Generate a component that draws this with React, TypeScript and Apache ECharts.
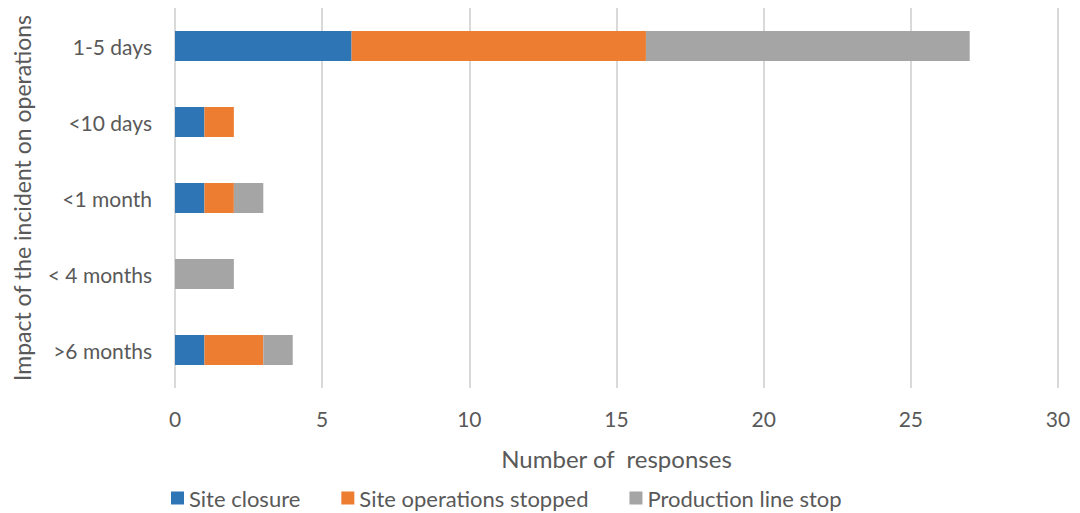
import React, { useEffect, useRef } from "react";
import * as echarts from "echarts";

const categories = ["1-5 days", "<10 days", "<1 month", "< 4 months", ">6 months"];
const siteClosure = [6, 1, 1, 0, 1];
const siteOpsStopped = [10, 1, 1, 0, 2];
const productionLineStop = [11, 0, 1, 2, 1];
const seriesNames = ["Site closure", "Site operations stopped", "Production line stop"];
const colors = ["#2E75B6", "#ED7D31", "#A5A5A5"];

const FONT = "Lato, 'Open Sans', sans-serif";

export default function App() {
  const ref = useRef<HTMLDivElement>(null);
  useEffect(() => {
    if (!ref.current) return;
    const chart = echarts.init(ref.current, undefined, { renderer: "svg" });
    const data = [siteClosure, siteOpsStopped, productionLineStop];
    chart.setOption({
      animation: false,
      textStyle: { fontFamily: FONT },
      grid: { left: 175, right: 22, top: 8, bottom: 125, containLabel: false, outerBoundsMode: "none" },
      legend: {
        top: 482,
        left: 166,
        itemWidth: 13,
        itemHeight: 13,
        itemGap: 41,
        icon: "rect",
        textStyle: { fontSize: 22, color: "#595959", fontFamily: FONT },
        data: seriesNames,
      },
      xAxis: {
        type: "value",
        min: 0,
        max: 30,
        interval: 5,
        name: "Number of  responses",
        nameLocation: "middle",
        nameGap: 58,
        nameTextStyle: { fontSize: 24, color: "#595959", fontFamily: FONT },
        axisLine: { show: false },
        axisTick: { show: false },
        axisLabel: { fontSize: 21, color: "#595959", margin: 20, fontFamily: FONT },
        splitLine: { show: true, lineStyle: { color: "#D9D9D9", width: 2 } },
      },
      yAxis: {
        type: "category",
        inverse: true,
        data: categories,
        name: "Impact of the incident on operations",
        nameLocation: "middle",
        nameGap: 142,
        nameRotate: 90,
        nameTextStyle: { fontSize: 23, color: "#595959", fontFamily: FONT },
        axisLine: { show: false },
        axisTick: { show: false },
        axisLabel: { fontSize: 21, color: "#595959", margin: 23, fontFamily: FONT },
      },
      series: seriesNames.map((name, i) => ({
        name,
        type: "bar",
        stack: "total",
        barWidth: 30,
        itemStyle: { color: colors[i] },
        data: data[i],
      })),
    });
    return () => chart.dispose();
  }, []);
  return (
    <div
      ref={ref}
      style={{ position: "absolute", left: 0, top: 0, width: 1080, height: 513 }}
    />
  );
}
